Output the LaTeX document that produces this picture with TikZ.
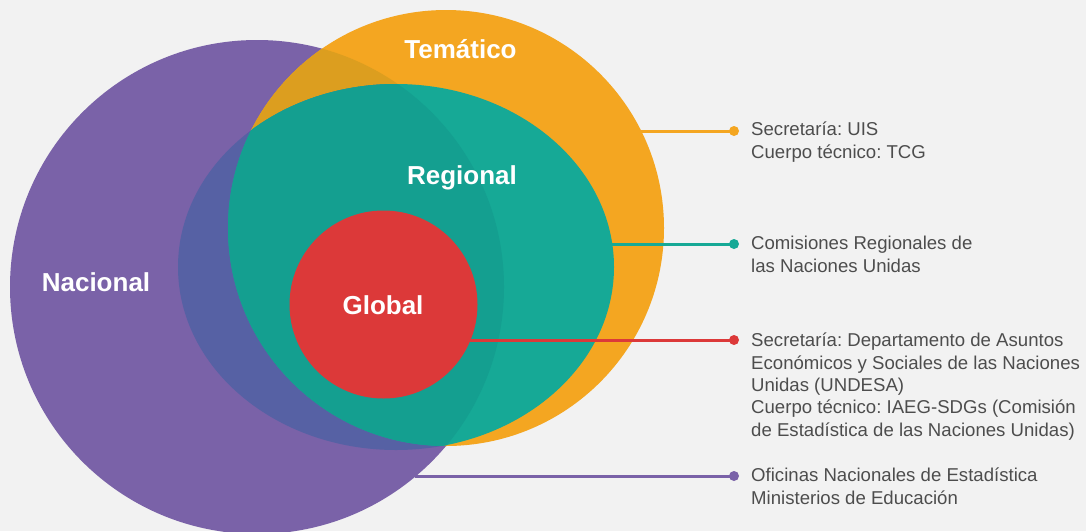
\documentclass[tikz,border=0pt]{standalone}
\usepackage{fontspec}
\setmainfont{Liberation Sans}
\frenchspacing
\definecolor{bgc}{HTML}{F2F2F2}
\definecolor{purp}{HTML}{7A62A8}
\definecolor{orng}{HTML}{F4A621}
\definecolor{dorng}{HTML}{DC9E1F}
\definecolor{bluec}{HTML}{5661A4}
\definecolor{tealc}{HTML}{16A996}
\definecolor{dteal}{HTML}{149F90}
\definecolor{redc}{HTML}{DC3939}
\definecolor{txt}{HTML}{4D4D4D}
\begin{document}
\begin{tikzpicture}[x=1pt,y=-1pt,
  circlabel/.style={text=white,font=\fontsize{26}{30}\selectfont\bfseries,anchor=base,inner sep=0pt},
  infotext/.style={text=txt,font=\fontsize{18.6}{22.3}\selectfont,anchor=base west,align=left,inner sep=0pt},
  conn/.style={line width=3pt},
  dotc/.style={circle,inner sep=0pt,minimum size=10pt,fill=#1}]
\path[use as bounding box,fill=bgc] (0,0) rectangle (1086,531);
\begin{scope}
  \clip (0,0) rectangle (1086,531);
  \fill[purp] (257,287) circle (247pt);
  \fill[orng] (446,228) circle (218pt);
  \begin{scope}
    \clip (257,287) circle (247pt);
    \fill[dorng] (446,228) circle (218pt);
    \fill[bluec] (396,267) ellipse (218pt and 183pt);
  \end{scope}
  \begin{scope}
    \clip (446,228) circle (218pt);
    \fill[tealc] (396,267) ellipse (218pt and 183pt);
    \clip (257,287) circle (247pt);
    \fill[dteal] (396,267) ellipse (218pt and 183pt);
  \end{scope}
  \fill[redc] (383.5,304.5) circle (94pt);
\end{scope}
% labels
\node[circlabel] (tem) at (460.5,58) {Temático};
\node[circlabel] (reg) at (462,184) {Regional};
\node[circlabel] (nac) at (96,291) {Nacional};
\node[circlabel] (glo) at (383,314) {Global};
% connector ends
\coordinate (eT) at (641,131);
\coordinate (eR) at (612,244);
\coordinate (eG) at (470,340);
\coordinate (eN) at (415,476);
\node[dotc=orng] (dT) at (734,131) {};
\node[dotc=tealc] (dR) at (734,244) {};
\node[dotc=redc] (dG) at (734,340) {};
\node[dotc=purp] (dN) at (734,476) {};
\draw[conn,orng] (eT) -- (dT.center);
\draw[conn,tealc] (eR) -- (dR.center);
\draw[conn,redc] (eG) -- (dG.center);
\draw[conn,purp] (eN) -- (dN.center);
% texts (anchored at the baseline of their last line)
\node[infotext] (tT) at (751,158) {Secretaría: UIS\\Cuerpo técnico: TCG};
\node[infotext] (tR) at (751,272) {Comisiones Regionales de\\las Naciones Unidas};
\node[infotext] (tG) at (751,436) {Secretaría: Departamento de Asuntos\\Económicos y Sociales de las Naciones\\Unidas (UNDESA)\\Cuerpo técnico: IAEG-SDGs (Comisión\\de Estadística de las Naciones Unidas)};
\node[infotext] (tN) at (751,504) {Oficinas Nacionales de Estadística\\Ministerios de Educación};
\end{tikzpicture}
\end{document}
